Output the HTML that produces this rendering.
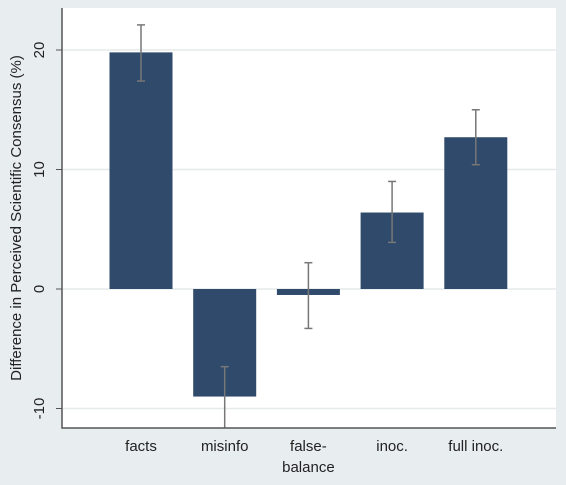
<!DOCTYPE html>
<html><head><meta charset="utf-8"><style>
body{margin:0;background:#e8edf0;}
svg{display:block;font-family:"Liberation Sans",sans-serif;}
</style></head><body>
<svg id="c" width="566" height="485">
<rect x="0" y="0" width="566" height="485" fill="#e8edf0"/>
<rect x="62" y="8" width="494" height="420" fill="#ffffff"/>
<g id="grid"></g><g id="bars"></g><g id="errs"></g><g id="axes"></g>
<text transform="translate(21,218) rotate(-90)" text-anchor="middle" font-size="15" fill="#222">Difference in Perceived Scientific Consensus (%)</text>
</svg>
<script>
const categories=[["facts"],["misinfo"],["false-","balance"],["inoc."],["full inoc."]];
const values=[19.8,-9.0,-0.5,6.4,12.7];
const errLow=[17.4,-12.0,-3.3,3.9,10.4];
const errHigh=[22.1,-6.5,2.2,9.0,15.0];
const ticks=[-10,0,10,20];
const NS="http://www.w3.org/2000/svg";
const y=v=>289-11.95*v;
const x=i=>141+83.7*i;
const bw=63,plotL=62,plotR=556,plotB=428;
function mk(t,a,p){const e=document.createElementNS(NS,t);for(const k in a)e.setAttribute(k,a[k]);document.getElementById(p).appendChild(e);return e;}
ticks.forEach(t=>{
 const g=mk('line',{x1:plotL,x2:plotR,y1:y(t),y2:y(t),stroke:'#e6eaec','stroke-width':1.5},'grid');
 
 
 const tk=mk('line',{x1:plotL-6,x2:plotL,y1:y(t),y2:y(t),stroke:'#555'},'axes');
 
 
 const tx=mk('text',{transform:`translate(44,${y(t)}) rotate(-90)`,'text-anchor':'middle','font-size':15,fill:'#222'},'axes');
 tx.textContent=t;
 
 
});
values.forEach((v,i)=>{
 const top=Math.min(y(v),y(0)),h=Math.abs(y(v)-y(0));
 const r=mk('rect',{x:x(i)-bw/2,y:top,width:bw,height:h,fill:'#2f4a6b'},'bars');
 
 
 const lo=Math.min(y(errLow[i]),plotB),hi=y(errHigh[i]);
 const l=mk('line',{x1:x(i),x2:x(i),y1:lo,y2:hi,stroke:'#777','stroke-width':1.5},'errs');
 
 
 [errLow[i],errHigh[i]].forEach(e=>{if(y(e)<plotB){const c=mk('line',{x1:x(i)-4,x2:x(i)+4,y1:y(e),y2:y(e),stroke:'#777','stroke-width':1.5},'errs');
 
 }});
 categories[i].forEach((s,j)=>{const t=mk('text',{x:x(i),y:451+21*j,'text-anchor':'middle','font-size':15,fill:'#222'},'axes');
 t.textContent=s;
 
 });
});
const ax=mk('path',{d:`M${plotL},8V${plotB}H${plotR}`,fill:'none',stroke:'#555','stroke-width':1.5},'axes');


</script>
</body></html>
